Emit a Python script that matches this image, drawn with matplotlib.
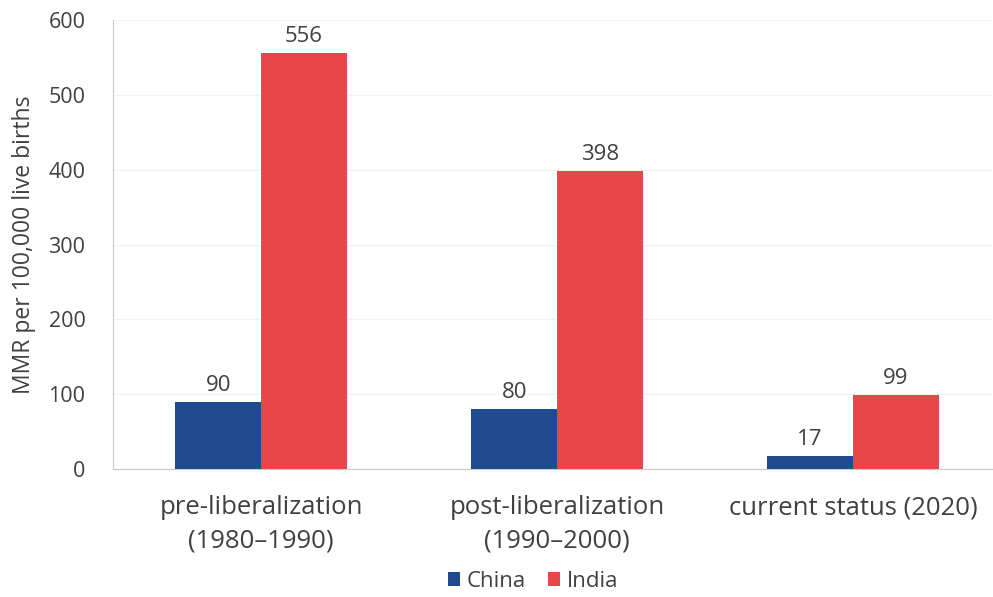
import numpy as np
import matplotlib
matplotlib.use("Agg")
import matplotlib.pyplot as plt

plt.rcParams['font.family'] = ['Open Sans', 'DejaVu Sans']

# maternal mortality ratio by period
periods = ["pre-liberalization\n(1980–1990)", "post-liberalization\n(1990–2000)", "current status (2020)"]
china = [90, 80, 17]
india = [556, 398, 99]

text_col = "#404040"
fig = plt.figure(figsize=(9.93, 5.97), dpi=100)
ax = fig.add_axes([0.114, 0.2144, 0.885, 0.7521])

x = np.arange(len(periods))
w = 0.29
b1 = ax.bar(x - w / 2, china, w, color="#1f4b8e", label="China")
b2 = ax.bar(x + w / 2, india, w, color="#e8474a", label="India")

for bars, vals in [(b1, china), (b2, india)]:
    for rect, v in zip(bars, vals):
        ax.text(rect.get_x() + rect.get_width() / 2, v + 8, str(v),
                ha="center", va="bottom", fontsize=16, color=text_col)

ax.set_xlim(-0.5, 2.47)
ax.set_ylim(0, 600)
ax.set_yticks(range(0, 601, 100))
ax.set_xticks(x)
ax.set_xticklabels(periods, fontsize=18.5, color=text_col, linespacing=1.45)
ax.tick_params(axis="y", labelsize=15.5, colors=text_col, length=0, pad=20)
ax.tick_params(axis="x", length=0, pad=19)
ax.set_ylabel("MMR per 100,000 live births", fontsize=16.5, color=text_col, labelpad=9)

ax.yaxis.grid(True, color="#f2f2f2", linewidth=0.8)
ax.set_axisbelow(True)
for s in ["top", "right"]:
    ax.spines[s].set_visible(False)
ax.spines["left"].set_color("#c8c8c8")
ax.spines["bottom"].set_color("#c8c8c8")

fig.legend(loc="lower center", bbox_to_anchor=(0.537, -0.025), ncol=2, frameon=False,
           fontsize=16, handlelength=0.55, handleheight=0.55, handletextpad=0.3,
           columnspacing=1.0, labelcolor=text_col)

fig.savefig("out.png", dpi=100)
